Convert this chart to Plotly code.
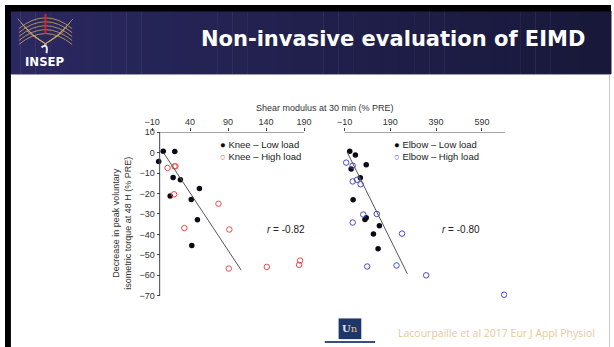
import plotly.graph_objects as go

# ---- data -------------------------------------------------------------
knee_low_x = [4.7, 19.9, -1.3, 17.7, 27.3, 52.3, 13.8, 41.6, 49.7, 42.3]
knee_low_y = [0.7, 0.5, -4.3, -12.2, -13.3, -17.6, -21.2, -22.9, -32.9, -45.4]
knee_high_x = [10.4, 19.5, 20.8, 19.0, 77.4, 32.5, 91.7, 90.9, 141.0, 183.5, 184.8]
knee_high_y = [-7.5, -6.7, -6.7, -20.4, -25.0, -36.9, -37.6, -56.7, -55.9, -54.9, -52.8]
elbow_low_x = [12.8, 37.4, 84.8, 18.9, 59.0, 27.5, 84.8, 79.2, 142.2, 116.3, 136.6]
elbow_low_y = [0.7, -1.2, -5.9, -8.0, -12.3, -23.1, -31.8, -32.7, -35.8, -39.8, -47.0]
elbow_high_x = [-2.7, 25.8, 25.8, 44.7, 60.3, 71.9, 130.9, 25.8, 241.3, 89.1, 217.2, 346.5, 687.0]
elbow_high_y = [-4.9, -6.4, -14.1, -13.3, -15.5, -30.3, -30.0, -34.2, -39.6, -55.7, -55.2, -60.0, -69.5]

knee_fit_x = [5.2, 107.3]
knee_fit_y = [-0.1, -57.5]
elbow_fit_x = [1.6, 264.6]
elbow_fit_y = [0.2, -59.3]

knee_ticks = [-10, 40, 90, 140, 190]
elbow_ticks = [-10, 190, 390, 590]
y_ticks = [10, 0, -10, -20, -30, -40, -50, -60, -70]

knee_r = "<i>r</i> = -0.82"
elbow_r = "<i>r</i> = -0.80"

W, H = 614, 347
def X(px):
    return px / W
def Y(py):
    return 1 - py / H

AX_FONT = dict(family="Liberation Sans, Arial, sans-serif", size=9, color="#333333")
RED = "#f04848"
BLUE = "#4a4ac8"
INK = "#0a0a14"

fig = go.Figure()

fig.add_trace(go.Scatter(x=knee_low_x, y=knee_low_y, mode="markers", xaxis="x", yaxis="y",
                         marker=dict(color=INK, size=5.5, line=dict(width=0)), showlegend=False))
fig.add_trace(go.Scatter(x=knee_high_x, y=knee_high_y, mode="markers", xaxis="x", yaxis="y",
                         marker=dict(symbol="circle-open", color=RED, size=5.5, line=dict(width=1)),
                         showlegend=False))
fig.add_trace(go.Scatter(x=knee_fit_x, y=knee_fit_y, mode="lines", xaxis="x", yaxis="y",
                         line=dict(color="#555555", width=1), showlegend=False))

fig.add_trace(go.Scatter(x=elbow_low_x, y=elbow_low_y, mode="markers", xaxis="x2", yaxis="y",
                         marker=dict(color=INK, size=5.5, line=dict(width=0)), showlegend=False))
fig.add_trace(go.Scatter(x=elbow_high_x, y=elbow_high_y, mode="markers", xaxis="x2", yaxis="y",
                         marker=dict(symbol="circle-open", color=BLUE, size=5.5, line=dict(width=1)),
                         showlegend=False))
fig.add_trace(go.Scatter(x=elbow_fit_x, y=elbow_fit_y, mode="lines", xaxis="x2", yaxis="y",
                         line=dict(color="#555555", width=1), showlegend=False))

shapes = []

# header band with a left-to-right shade
n = 40
c0 = (42, 40, 96)
c1 = (24, 24, 58)
for i in range(n):
    t = i / (n - 1)
    col = "rgb(%d,%d,%d)" % tuple(round(a + (b - a) * t) for a, b in zip(c0, c1))
    x0 = i * W / n
    x1 = (i + 1) * W / n + 0.5
    shapes.append(dict(type="rect", xref="paper", yref="paper", x0=X(x0), x1=X(x1),
                       y0=Y(70), y1=Y(6), fillcolor=col, line=dict(width=0), layer="below"))
# outer frame
shapes.append(dict(type="rect", xref="paper", yref="paper", x0=0, x1=1, y0=Y(6.5), y1=1,
                   fillcolor="black", line=dict(width=0)))
shapes.append(dict(type="rect", xref="paper", yref="paper", x0=0, x1=X(6), y0=0, y1=1,
                   fillcolor="black", line=dict(width=0)))
shapes.append(dict(type="line", xref="paper", yref="paper", x0=X(612.5), x1=X(612.5),
                   y0=0, y1=Y(70), line=dict(color="#c8c8c8", width=1)))
shapes.append(dict(type="line", xref="paper", yref="paper", x0=X(6), x1=1,
                   y0=Y(70.5), y1=Y(70.5), line=dict(color="#9a98b8", width=1)))

# emblem: gold arcs with a red mast
def path_q(p0, c, p1):
    return "M %f,%f Q %f,%f %f,%f" % (X(p0[0]), Y(p0[1]), X(c[0]), Y(c[1]), X(p1[0]), Y(p1[1]))

gold = "#c9a86a"
for k in range(5):
    shapes.append(dict(type="path", xref="paper", yref="paper",
                       path=path_q((14, 24 + 4 * k), (41, 2 + 4 * k), (68, 24 + 4 * k)),
                       line=dict(color=gold, width=0.8)))
for k in range(4):
    shapes.append(dict(type="path", xref="paper", yref="paper",
                       path=path_q((13 + 3 * k, 14 + 4 * k), (28, 32), (42, 40)),
                       line=dict(color=gold, width=0.7)))
    shapes.append(dict(type="path", xref="paper", yref="paper",
                       path=path_q((69 - 3 * k, 14 + 4 * k), (54, 32), (40, 40)),
                       line=dict(color=gold, width=0.7)))
shapes.append(dict(type="line", xref="paper", yref="paper", x0=X(41), x1=X(41), y0=Y(29), y1=Y(9),
                   line=dict(color="#e02020", width=2)))
shapes.append(dict(type="path", xref="paper", yref="paper",
                   path=path_q((37, 43), (44, 38), (42, 49)),
                   line=dict(color="#e8e8f0", width=2)))

# footer emblem
shapes.append(dict(type="rect", xref="paper", yref="paper", x0=X(338), x1=X(361), y0=Y(339), y1=Y(318),
                   fillcolor="#1f3669", line=dict(width=0)))
shapes.append(dict(type="rect", xref="paper", yref="paper", x0=X(324), x1=X(375), y0=Y(343), y1=Y(341),
                   fillcolor="#3a4f80", line=dict(width=0)))

# axis lines
shapes.append(dict(type="line", xref="x", yref="y", x0=0, x1=190, y0=10, y1=10,
                   line=dict(color="#444444", width=1)))
shapes.append(dict(type="line", xref="x", yref="y", x0=0, x1=0, y0=10, y1=-70,
                   line=dict(color="#444444", width=1)))
shapes.append(dict(type="line", xref="x2", yref="y", x0=-10, x1=690, y0=10, y1=10,
                   line=dict(color="#444444", width=1)))

annotations = [
    dict(text="<b>Non-invasive evaluation of EIMD</b>", x=X(393), y=Y(34), xref="paper", yref="paper",
         showarrow=False, xanchor="center", yanchor="middle",
         font=dict(family="DejaVu Sans, sans-serif", size=21, color="white")),
    dict(text="<b>INSEP</b>", x=X(41), y=Y(57), xref="paper", yref="paper", showarrow=False,
         xanchor="center", yanchor="middle",
         font=dict(family="DejaVu Sans Condensed, DejaVu Sans, sans-serif", size=13, color="white")),
    dict(text="Shear modulus at 30 min (% PRE)", x=X(324), y=Y(105), xref="paper", yref="paper",
         showarrow=False, xanchor="center", yanchor="middle", font=AX_FONT),
    dict(text="Decrease in peak voluntary<br>isometric torque at 48 H (% PRE)", x=X(118.5), y=Y(221),
         xref="paper", yref="paper", showarrow=False, textangle=-90, xanchor="center", yanchor="middle",
         font=AX_FONT),
    dict(text='<span style="color:%s">●</span> Knee – Low load' % INK, x=X(216), y=Y(142),
         xref="paper", yref="paper", showarrow=False, xanchor="left", yanchor="middle",
         font=dict(family=AX_FONT["family"], size=9.5, color="#222222")),
    dict(text='<span style="color:%s">○</span> Knee – High load' % RED, x=X(216), y=Y(153.5),
         xref="paper", yref="paper", showarrow=False, xanchor="left", yanchor="middle",
         font=dict(family=AX_FONT["family"], size=9.5, color="#222222")),
    dict(text='<span style="color:%s">●</span> Elbow – Low load' % INK, x=X(392), y=Y(142),
         xref="paper", yref="paper", showarrow=False, xanchor="left", yanchor="middle",
         font=dict(family=AX_FONT["family"], size=9.5, color="#222222")),
    dict(text='<span style="color:%s">○</span> Elbow – High load' % BLUE, x=X(392), y=Y(153.5),
         xref="paper", yref="paper", showarrow=False, xanchor="left", yanchor="middle",
         font=dict(family=AX_FONT["family"], size=9.5, color="#222222")),
    dict(text=knee_r, x=166, y=-37.4, xref="x", yref="y", showarrow=False,
         font=dict(family=AX_FONT["family"], size=10, color="#222222")),
    dict(text=elbow_r, x=497, y=-37.4, xref="x2", yref="y", showarrow=False,
         font=dict(family=AX_FONT["family"], size=10, color="#222222")),
    dict(text="Lacourpaille et al 2017 Eur J Appl Physiol", x=X(396), y=Y(333), xref="paper", yref="paper",
         showarrow=False, xanchor="left", yanchor="middle",
         font=dict(family="Open Sans, sans-serif", size=10.5, color="#e3cc95")),
    dict(text="<b>U</b><span style='color:#e0c060'>n</span>", x=X(349.5), y=Y(328.5), xref="paper",
         yref="paper", showarrow=False, xanchor="center", yanchor="middle",
         font=dict(family="DejaVu Serif, serif", size=10, color="#dfe6f5")),
]

# pixel mapping of the plot areas
x1_lo, x1_hi = -14, 196      # panel 1: -10 -> px 149, 0.77 px per unit
x2_lo, x2_hi = -30, 700      # panel 2: -10 -> px 344, 0.232 px per unit
px1 = lambda v: 149 + (v + 10) * 0.77
px2 = lambda v: 344 + (v + 10) * 0.232
y_lo, y_hi = -74, 10
py = lambda v: 129 + (10 - v) * 2.075

fig.update_layout(
    width=W, height=H,
    margin=dict(l=0, r=0, t=0, b=0),
    paper_bgcolor="white", plot_bgcolor="rgba(0,0,0,0)",
    showlegend=False,
    xaxis=dict(domain=[X(px1(x1_lo)), X(px1(x1_hi))], range=[x1_lo, x1_hi], anchor="y", side="top",
               tickmode="array", tickvals=knee_ticks, ticks="outside", ticklen=3, tickcolor="#444444",
               showgrid=False, zeroline=False, showline=False, tickfont=AX_FONT),
    xaxis2=dict(domain=[X(px2(x2_lo)), X(px2(x2_hi))], range=[x2_lo, x2_hi], anchor="y", side="top",
                tickmode="array", tickvals=elbow_ticks, ticks="outside", ticklen=3, tickcolor="#444444",
                showgrid=False, zeroline=False, showline=False, tickfont=AX_FONT),
    yaxis=dict(domain=[Y(py(y_lo)), Y(py(y_hi))], range=[y_lo, y_hi], anchor="free",
               position=X(px1(0)), tickmode="array", tickvals=y_ticks, ticks="outside", ticklen=3,
               tickcolor="#444444", showgrid=False, zeroline=False, showline=False, tickfont=AX_FONT),
    shapes=shapes,
    annotations=annotations,
)

fig.write_html("out.html")
